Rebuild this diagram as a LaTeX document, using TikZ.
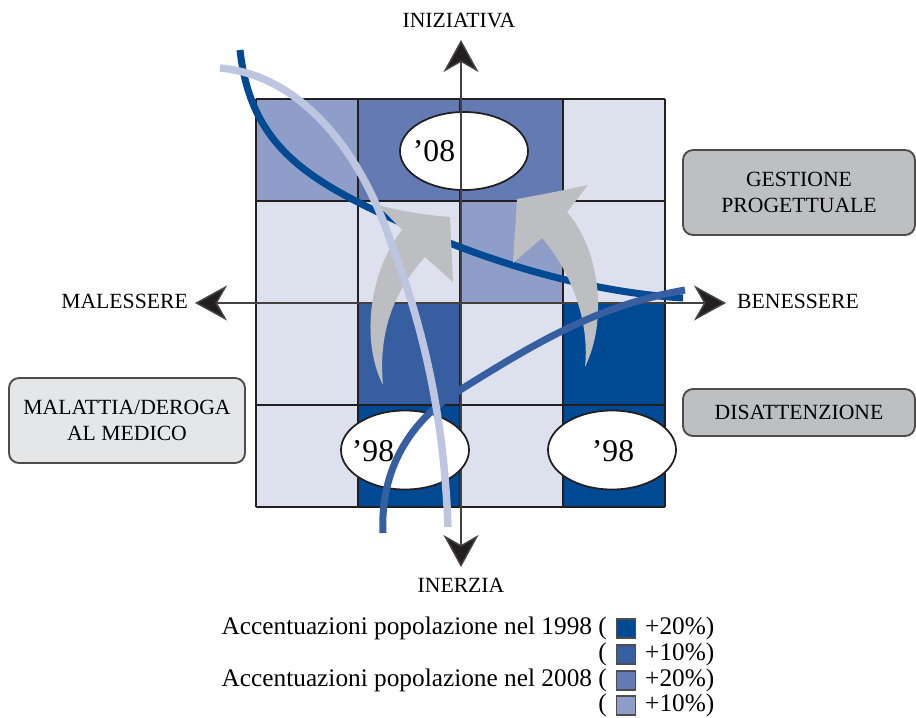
\documentclass[tikz,border=0pt]{standalone}
\usepackage{fontspec}
\setmainfont{Liberation Serif}
\usetikzlibrary{arrows.meta,shapes.geometric}

% palette
\definecolor{blueA}{RGB}{0,74,147}     % 1998 +20%
\definecolor{blueB}{RGB}{54,94,160}    % 1998 +10%
\definecolor{blueC}{RGB}{99,122,178}   % 2008 +20%
\definecolor{blueD}{RGB}{143,158,201}  % 2008 +10%
\definecolor{cellL}{RGB}{221,225,238}
\definecolor{lavender}{RGB}{190,197,225}
\definecolor{arrowgray}{RGB}{189,190,193}
\definecolor{boxgray}{RGB}{190,191,193}
\definecolor{boxlight}{RGB}{229,230,232}
\definecolor{ink}{RGB}{35,31,32}

\newcommand\lblfont{\fontsize{18.5}{21.5}\selectfont}
\newcommand\legfont{\fontsize{21.6}{24}\selectfont}
\newcommand\yearfont{\fontsize{27}{31}\selectfont}

\begin{document}
\begin{tikzpicture}[x=0.03cm,y=-0.03cm,
  gridline/.style={line width=2.1pt, draw=ink},
  axis/.style={line width=1.3pt, draw=ink!85,
    {Stealth[length=0.96cm,width=1.05cm,inset=0.3cm,fill=ink]}-{Stealth[length=0.96cm,width=1.05cm,inset=0.3cm,fill=ink]}},
  oval/.style={ellipse, draw=ink, line width=1.5pt, fill=white, inner sep=0pt},
  yeartext/.style={inner sep=0pt, font=\yearfont},
  axislabel/.style={inner sep=0pt, font=\lblfont},
  tagbox/.style={draw=ink!80, line width=1.6pt, rounded corners=0.3cm,
    align=center, font=\lblfont, inner sep=0pt,
    minimum width={232*0.03cm}},
  legtext/.style={inner sep=0pt, font=\legfont},
  swatch/.style={draw=ink!80, line width=1.1pt, minimum width={19*0.03cm},
    minimum height={19*0.03cm}, inner sep=0pt},
  trend/.style={line width=6pt},
  bigarrow/.style={fill=arrowgray}
]
\useasboundingbox (0,0) rectangle (916,717);

% ---- quadrant cells (column/row/colour)
\foreach \c/\r/\col in {0/0/blueD,1/0/blueC,2/0/blueC,3/0/cellL,
                         0/1/cellL,1/1/cellL,2/1/blueD,3/1/cellL,
                         0/2/cellL,1/2/blueB,2/2/cellL,3/2/blueA,
                         0/3/cellL,1/3/blueA,2/3/cellL,3/3/blueA}
  \fill[\col] ({256+\c*102.25},{99+\r*102}) rectangle ++(102.25,102);

% ---- grid lines
\foreach \i in {0,...,4} {
  \draw[gridline] ({256+\i*102.25},99) -- ({256+\i*102.25},507);
  \draw[gridline] (256,{99+\i*102}) -- (665,{99+\i*102});
}

% ---- 2008 marker (the vertical axis runs over it)
\node[oval, minimum width={128*0.03cm}, minimum height={78*0.03cm}] (e08) at (464,151) {};

% ---- axes
\coordinate (axT) at (461,40);
\coordinate (axB) at (461,567);
\coordinate (axL) at (195,303);
\coordinate (axR) at (726,303);
\draw[axis] (axB) -- (axT);
\draw[axis] (axL) -- (axR);

% ---- 1998 markers
\node[oval, minimum width={128*0.03cm}, minimum height={79*0.03cm}] (e98a) at (405,450) {};
\node[oval, minimum width={128*0.03cm}, minimum height={79*0.03cm}] (e98b) at (612,450) {};
\node[yeartext] (t08) at (434,151) {’08};
\node[yeartext] (t98a) at (373,451) {’98};
\node[yeartext] (t98b) at (613,451) {’98};

% ---- dark trend line
\draw[trend, draw=blueA] (240,50) .. controls (250,140) and (300,175) .. (380,213)
  .. controls (450,246) and (560,290) .. (683,298);

% ---- grey curved arrows
\fill[bigarrow] (383,385) .. controls (360,340) and (370,270) .. (402,230)
  -- (378,205) .. controls (400,211) and (425,215) .. (450,217)
  -- (453,282) -- (425,257) .. controls (395,290) and (378,330) .. (383,385) -- cycle;
\fill[bigarrow] (585,367) .. controls (608,320) and (600,250) .. (567,212)
  -- (588,185) .. controls (565,190) and (540,195) .. (517,199)
  -- (513,263) -- (542,238) .. controls (570,270) and (590,320) .. (585,367) -- cycle;

% ---- medium and light trend lines
\draw[trend, draw=blueB] (383,533) .. controls (380,470) and (410,420) .. (460,390)
  .. controls (540,340) and (600,305) .. (685,290);
\draw[trend, line width=6.4pt, draw=lavender] (220,68) .. controls (300,75) and (360,150) .. (390,240)
  .. controls (425,330) and (444,420) .. (448,527);

% ---- axis labels
\node[axislabel] (lblTop) at (459,21) {INIZIATIVA};
\node[axislabel] (lblBot) at (461,585) {INERZIA};
\node[axislabel, anchor=east] (lblL) at (188,301) {MALESSERE};
\node[axislabel, anchor=west] (lblR) at (737,301) {BENESSERE};

% ---- tag boxes
\node[tagbox, fill=boxgray, minimum height={85*0.03cm}] (gest) at (799,192.5) {GESTIONE\\PROGETTUALE};
\node[tagbox, fill=boxgray, minimum height={47*0.03cm}] (disatt) at (799,412.5) {DISATTENZIONE};
\node[tagbox, fill=boxlight, minimum width={236*0.03cm}, minimum height={85*0.03cm}] (malat) at (127,420.5) {MALATTIA/DEROGA\\AL MEDICO};

% ---- legend
\node[legtext, anchor=base east] (leg1) at (607,634) {Accentuazioni popolazione nel 1998 (};
\node[swatch, fill=blueA] (sw1) at (626,628.5) {};
\node[legtext, anchor=base west] (val1) at (645,634) {+20\%)};
\node[legtext, anchor=base east] (leg2) at (607,660) {(};
\node[swatch, fill=blueB] (sw2) at (626,654.5) {};
\node[legtext, anchor=base west] (val2) at (645,660) {+10\%)};
\node[legtext, anchor=base east] (leg3) at (607,686) {Accentuazioni popolazione nel 2008 (};
\node[swatch, fill=blueC] (sw3) at (626,680.5) {};
\node[legtext, anchor=base west] (val3) at (645,686) {+20\%)};
\node[legtext, anchor=base east] (leg4) at (607,711) {(};
\node[swatch, fill=blueD] (sw4) at (626,705.5) {};
\node[legtext, anchor=base west] (val4) at (645,711) {+10\%)};
\end{tikzpicture}
\end{document}
